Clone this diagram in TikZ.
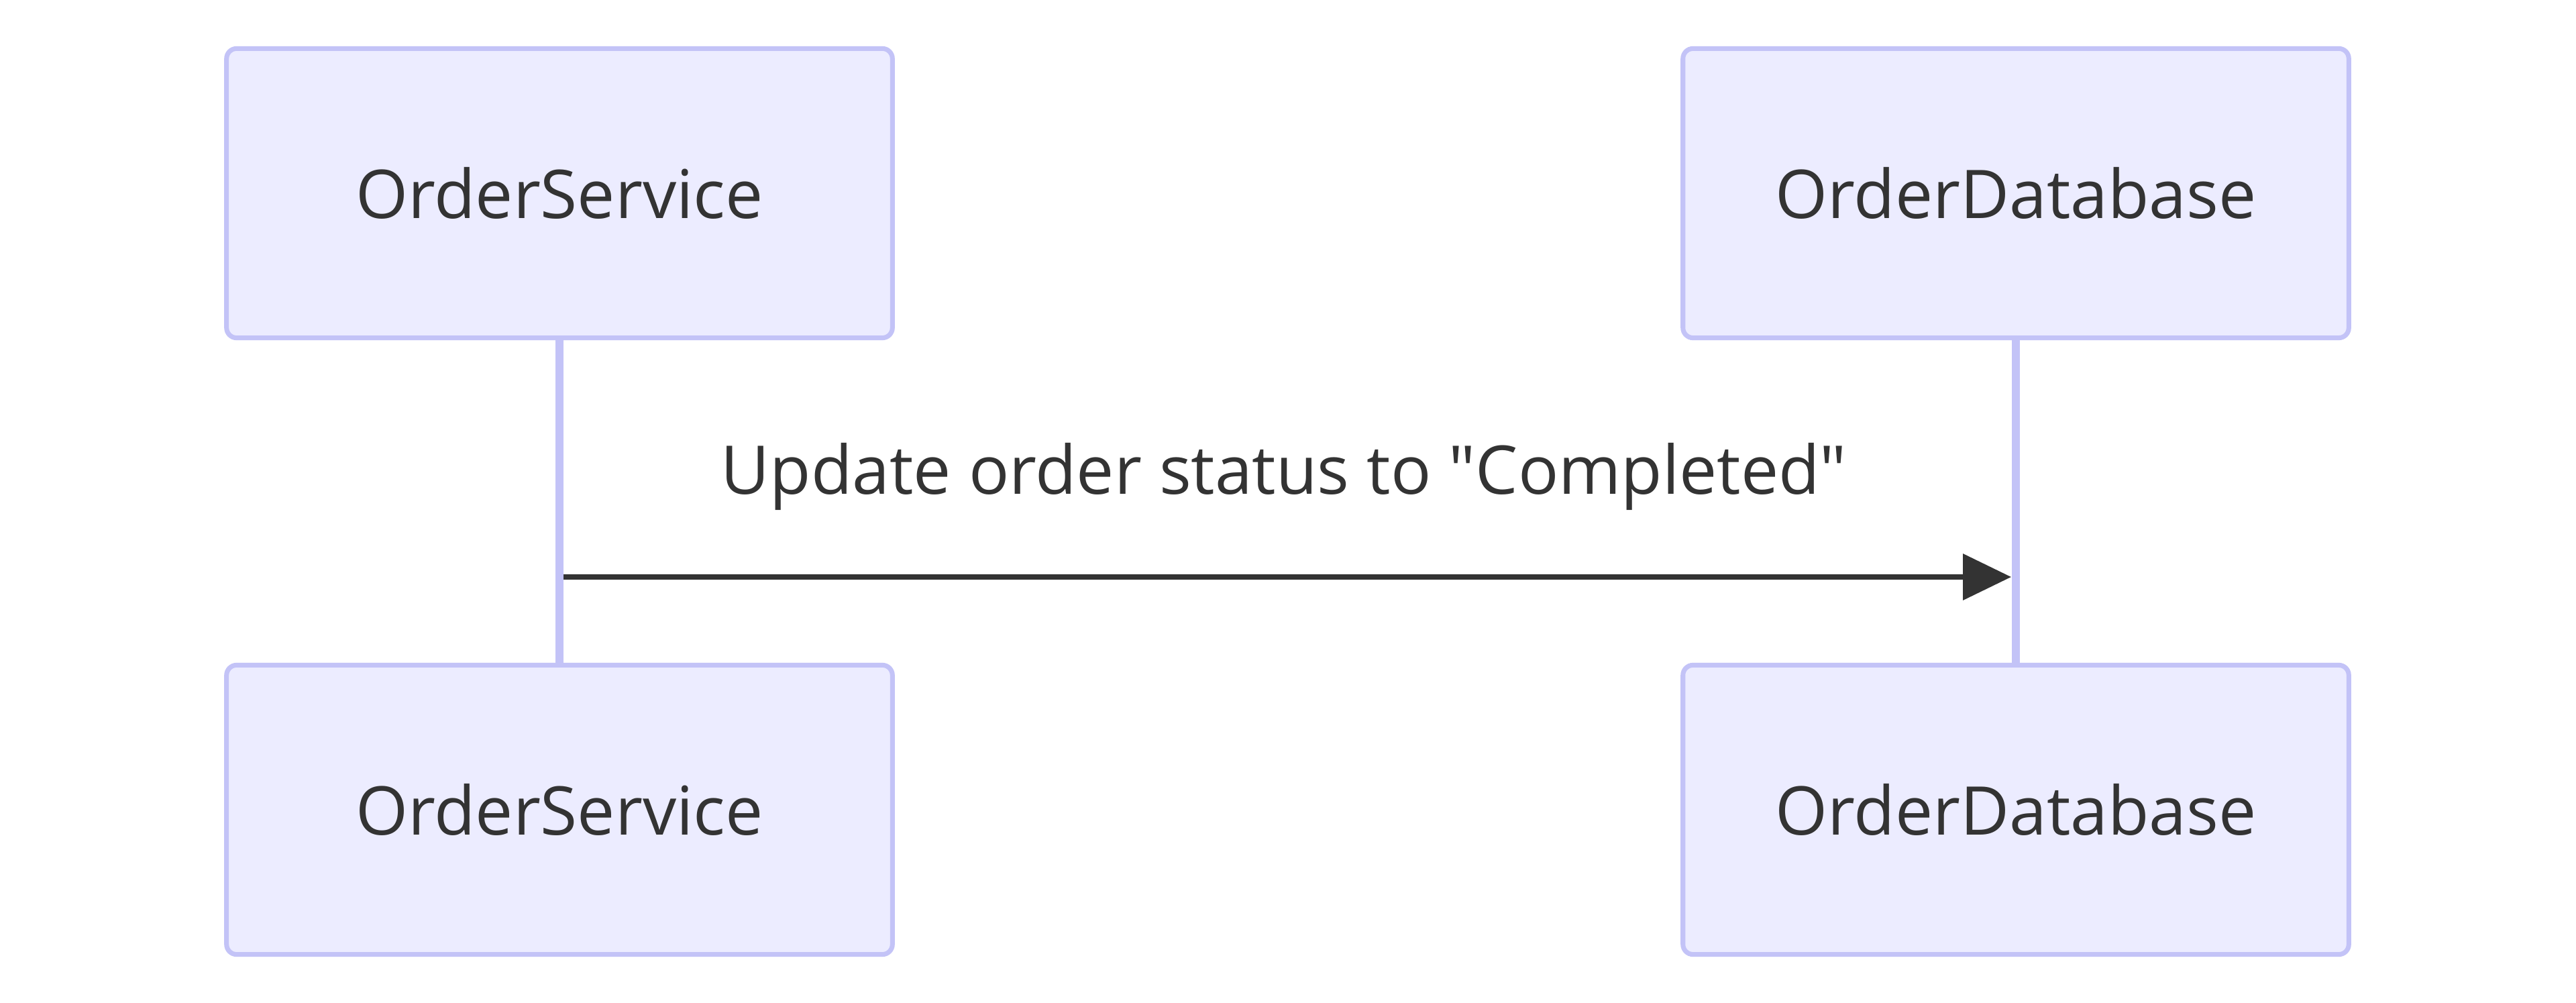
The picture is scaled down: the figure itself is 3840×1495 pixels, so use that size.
\documentclass[tikz,border=0pt]{standalone}
\usepackage{fontspec}
\setmainfont{Open Sans}
\usetikzlibrary{arrows.meta}
\definecolor{actorfill}{HTML}{ECECFF}
\definecolor{actorline}{HTML}{C3C3F7}
\definecolor{ink}{HTML}{333333}
\tikzset{
  actor/.style={draw=actorline, fill=actorfill, line width=2pt, rounded corners=0.15cm,
    minimum width=9.92cm, minimum height=4.31cm, text=ink,
    font=\fontsize{28.5}{34}\selectfont},
  lifeline/.style={draw=actorline, line width=3.5pt},
  msg/.style={draw=ink, line width=2pt, -{Triangle[length=0.72cm, width=0.68cm]}},
}
\begin{document}
\begin{tikzpicture}[x=0.01cm, y=-0.01cm]
    \useasboundingbox (0,0) rectangle (3840,1495);
    % Actors:
    \node[actor] (svcTop) at (834,288) {OrderService};
    \node[actor] (dbTop) at (3005,288) {OrderDatabase};
    \node[actor] (svcBot) at (834,1207) {OrderService};
    \node[actor] (dbBot) at (3005,1207) {OrderDatabase};

    % Lifelines:
    \draw[lifeline] (svcTop) -- (svcBot);
    \draw[lifeline] (dbTop) -- (dbBot);

    % Message:
    \coordinate (msgY) at (0,860);
    \draw[msg, shorten <=0.06cm, shorten >=0.07cm] (svcTop.center |- msgY) -- (dbTop.center |- msgY);
    \node[anchor=base, text=ink, font=\fontsize{28.5}{34}\selectfont] (msgText) at (1914,737)
        {Update order status to \textquotedbl Completed\textquotedbl};
\end{tikzpicture}
\end{document}
